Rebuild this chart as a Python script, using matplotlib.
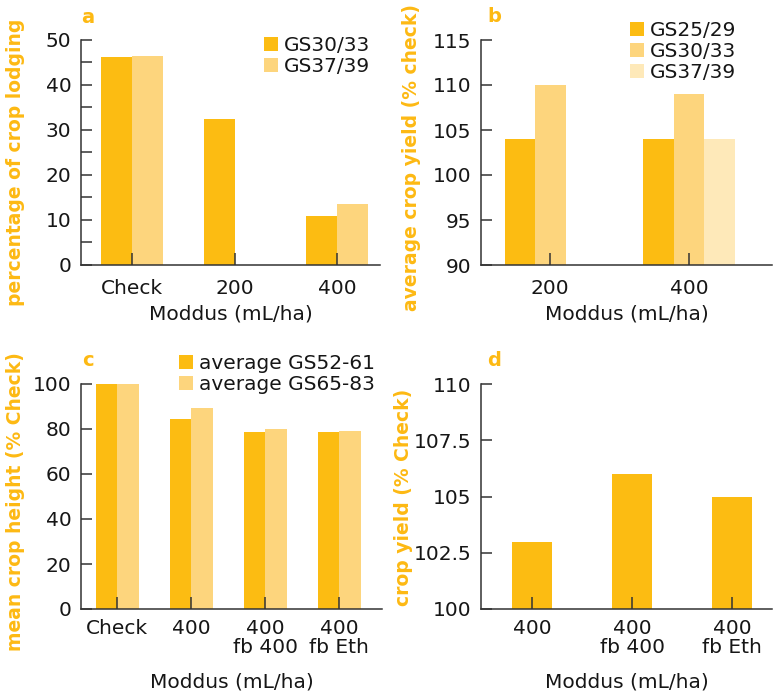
import matplotlib
matplotlib.use('Agg')
import matplotlib.pyplot as plt
from matplotlib.ticker import MultipleLocator
import numpy as np

W, H = 776, 694
plt.rcParams['font.family'] = ['DejaVu Sans']

DARK = '#FCBC12'
MID = '#FDD57D'
LIGHT = '#FEE9B9'
ORANGE = '#FDB913'
INK = '#161616'

# ── Data ───────────────────────────────────────────────────────────
a_cats = ['Check', '200', '400']
a_gs3033 = [46.2, 32.4, 10.9]
a_gs3739 = [46.4, np.nan, 13.6]

b_cats = ['200', '400']
b_gs2529 = [104, 104]
b_gs3033 = [110, 109]
b_gs3739 = [np.nan, 104]

c_cats = ['Check', '400', '400\nfb 400', '400\nfb Eth']
c_gs5261 = [100, 84.4, 78.7, 78.7]
c_gs6583 = [100, 89.3, 79.9, 79.1]

d_cats = ['400', '400\nfb 400', '400\nfb Eth']
d_yield = [103, 106, 105]

FS = 14.5


def make_axes(fig, left, top, right, bottom):
    # pixel box -> figure fraction
    return fig.add_axes([left / W, 1 - bottom / H, (right - left) / W, (bottom - top) / H])


def style(ax, xpad):
    for s in ['top', 'right']:
        ax.spines[s].set_visible(False)
    for s in ['left', 'bottom']:
        ax.spines[s].set_color('#333333')
        ax.spines[s].set_linewidth(1.1)
    ax.tick_params(axis='y', which='both', direction='in', length=8, width=1.1,
                   color='#333333', labelsize=FS, labelcolor=INK, pad=7)
    ax.tick_params(axis='x', direction='in', length=9, width=1.1,
                   color='#333333', labelsize=FS, labelcolor=INK, pad=xpad)


def panel_text(ax, letter, ylabel, px_x, px_let, px_lab_y, box):
    left, top, right, bottom = box
    ax.set_ylabel(ylabel, color=ORANGE, fontsize=13.5, fontweight='bold')
    ax.yaxis.set_label_coords((px_x - left) / (right - left),
                              (bottom - px_lab_y) / (bottom - top))
    ax.text((px_let[0] - left) / (right - left), (bottom - px_let[1]) / (bottom - top),
            letter, transform=ax.transAxes, color=ORANGE, fontsize=14,
            fontweight='bold', ha='center', va='center')


def add_legend(ax, px_x, px_y):
    ax.legend(loc='upper left', bbox_to_anchor=(px_x / W, 1 - px_y / H),
              bbox_transform=fig.transFigure, frameon=False, fontsize=FS,
              handlelength=0.7, handleheight=0.7, handletextpad=0.3,
              labelspacing=0.1, borderpad=0, borderaxespad=0,
              labelcolor=INK)


fig = plt.figure(figsize=(W / 100, H / 100), dpi=100)

# ── Panel a ────────────────────────────────────────────────────────
box_a = (81, 40, 380, 265)
ax = make_axes(fig, *box_a)
x = np.arange(len(a_cats))
w = 0.3
ax.bar(x - w / 2, a_gs3033, w, color=DARK, label='GS30/33')
ax.bar(x + w / 2, a_gs3739, w, color=MID, label='GS37/39')
ax.set_xticks(x, a_cats)
ax.set_xlim(-0.5, 2.42)
ax.set_ylim(0, 50)
ax.yaxis.set_major_locator(MultipleLocator(10))
ax.yaxis.set_minor_locator(MultipleLocator(5))
style(ax, 10)
ax.set_xlabel('Moddus (mL/ha)', fontsize=FS, color=INK, labelpad=5)
panel_text(ax, 'a', 'percentage of crop lodging', 25, (88, 18), 162, box_a)
add_legend(ax, 264, 36)

# ── Panel b ────────────────────────────────────────────────────────
box_b = (481, 40, 772, 265)
ax = make_axes(fig, *box_b)
x = np.arange(len(b_cats))
w = 0.22
ax.bar(x - w, b_gs2529, w, color=DARK, label='GS25/29')
ax.bar(x, b_gs3033, w, color=MID, label='GS30/33')
ax.bar(x + w, b_gs3739, w, color=LIGHT, label='GS37/39')
ax.set_xticks(x, b_cats)
ax.set_xlim(-0.5, 1.6)
ax.set_ylim(90, 115)
ax.yaxis.set_major_locator(MultipleLocator(5))
style(ax, 10)
ax.set_xlabel('Moddus (mL/ha)', fontsize=FS, color=INK, labelpad=5)
panel_text(ax, 'b', 'average crop yield (% check)', 421, (494, 17), 158, box_b)
add_legend(ax, 630, 21)

# ── Panel c ────────────────────────────────────────────────────────
box_c = (81, 384, 382, 609)
ax = make_axes(fig, *box_c)
x = np.arange(len(c_cats))
w = 0.29
ax.bar(x - w / 2, c_gs5261, w, color=DARK, label='average GS52-61')
ax.bar(x + w / 2, c_gs6583, w, color=MID, label='average GS65-83')
ax.set_xticks(x, c_cats, linespacing=1.0)
ax.set_xlim(-0.49, 3.58)
ax.set_ylim(0, 100)
ax.yaxis.set_major_locator(MultipleLocator(20))
style(ax, 7)
ax.set_xlabel('Moddus (mL/ha)', fontsize=FS, color=INK, labelpad=11)
panel_text(ax, 'c', 'mean crop height (% Check)', 25, (88, 361), 502, box_c)
add_legend(ax, 179, 354)

# ── Panel d ────────────────────────────────────────────────────────
box_d = (481, 384, 772, 609)
ax = make_axes(fig, *box_d)
x = np.arange(len(d_cats))
ax.bar(x, d_yield, 0.4, color=DARK)
ax.set_xticks(x, d_cats, linespacing=1.0)
ax.set_xlim(-0.51, 2.4)
ax.set_ylim(100, 110)
ax.set_yticks([100, 102.5, 105, 107.5, 110], ['100', '102.5', '105', '107.5', '110'])
style(ax, 7)
ax.set_xlabel('Moddus (mL/ha)', fontsize=FS, color=INK, labelpad=11)
panel_text(ax, 'd', 'crop yield (% Check)', 413, (494, 361), 497, box_d)

fig.savefig('out.png', dpi=100)
